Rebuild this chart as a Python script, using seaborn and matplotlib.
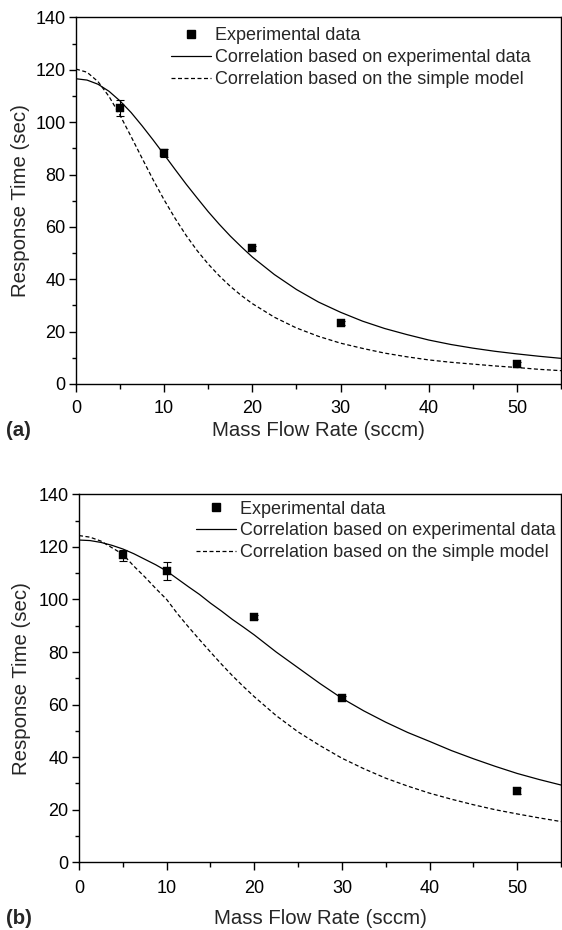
import matplotlib
matplotlib.use("Agg")
import matplotlib.pyplot as plt
import seaborn as sns
import pandas as pd
from matplotlib.lines import Line2D
from matplotlib.ticker import MultipleLocator

# ---- data ----
flow_exp = [5, 10, 20, 30, 50]
a_exp = [105.3, 88.2, 51.8, 23.2, 7.5]
a_err = [3.0, 1.5, 0.8, 0.8, 1.0]
b_exp = [116.8, 110.8, 93.3, 62.4, 27.1]
b_err = [2.0, 3.5, 0.8, 0.8, 1.3]

flow_fit = [0, 1.25, 2.5, 3.75, 5, 6.25, 7.5, 8.75, 10, 11.25, 12.5, 13.75,
            15, 16.25, 17.5, 18.75, 20, 22.5, 25, 27.5,
            30, 32.5, 35, 37.5, 40, 42.5, 45, 47.5, 50, 52.5, 55]
a_fit_exp = [116.6, 116.1, 114.5, 111.8, 108.1, 103.7, 98.6, 93.2, 87.6, 81.9,
             76.3, 71.0, 65.8, 61.0, 56.5, 52.4, 48.5, 41.8,
             36.1, 31.3, 27.4, 24.0, 21.2, 18.9, 16.8, 15.1, 13.7, 12.5,
             11.5, 10.6, 9.8]
a_fit_model = [120.3, 119.1, 115.5, 109.8, 102.6, 94.5, 86.2, 78.0, 70.3, 63.2,
               56.7, 50.9, 45.8, 41.3, 37.3, 33.8, 30.7, 25.5,
               21.4, 18.2, 15.6, 13.6, 11.8, 10.4, 9.2, 8.3, 7.6, 6.9,
               6.3, 5.6, 5.1]
b_fit_exp = [122.6, 122.4, 121.7, 120.6, 119.2, 117.4, 115.3, 113.2, 110.8, 107.8,
             104.8, 101.9, 98.6, 95.6, 92.4, 89.5, 86.5, 80.0,
             74.0, 68.0, 62.4, 57.6, 53.3, 49.4, 46.0, 42.5, 39.4, 36.5,
             33.8, 31.5, 29.4]
b_fit_model = [124.3, 123.7, 122.2, 119.7, 117.2, 112.7, 108.6, 104.2, 100.0, 94.5,
               89.5, 84.7, 80.0, 75.4, 71.0, 66.9, 63.0, 55.8,
               49.6, 44.4, 39.6, 35.6, 32.0, 29.0, 26.3, 24.0, 21.9, 20.0,
               18.4, 16.9, 15.5]

x_ticks = [0, 10, 20, 30, 40, 50]
y_ticks = [0, 20, 40, 60, 80, 100, 120, 140]
legend_labels = ["Experimental data",
                 "Correlation based on experimental data",
                 "Correlation based on the simple model"]
panel_labels = ["(a)", "(b)"]

sns.set_style("ticks")
plt.rcParams["font.family"] = ["Liberation Sans", "DejaVu Sans"]

W, H = 562, 930
fig = plt.figure(figsize=(W / 100, H / 100), dpi=100)

def fpos(l, t, r, b):
    return [l / W, 1 - b / H, (r - l) / W, (b - t) / H]

ax_a = fig.add_axes(fpos(76, 17.5, 561, 384))
ax_b = fig.add_axes(fpos(79, 494.3, 561, 862.3))

panels = [
    (ax_a, a_exp, a_err, a_fit_exp, a_fit_model, (171, 27.5), 430, 5.5, 3, 3.5),
    (ax_b, b_exp, b_err, b_fit_exp, b_fit_model, (196, 500.5), 918, 6.5, 9, 5.5),
]

dash = (0, (3.2, 2.0))
for i, (ax, yexp, yerr, fexp, fmod, leg_xy, ylab, xpad, xlpad, ylpad) in enumerate(panels):
    df_fit = pd.DataFrame({"x": flow_fit, "fe": fexp, "fm": fmod})
    sns.lineplot(data=df_fit, x="x", y="fe", ax=ax, color="black", lw=0.9)
    sns.lineplot(data=df_fit, x="x", y="fm", ax=ax, color="black", lw=0.9,
                 linestyle=dash)
    ax.errorbar(flow_exp, yexp, yerr=yerr, fmt="none", ecolor="black",
                elinewidth=0.8, capsize=2.6, capthick=0.8, zorder=3)
    df_exp = pd.DataFrame({"x": flow_exp, "y": yexp})
    sns.scatterplot(data=df_exp, x="x", y="y", ax=ax, marker="s", s=30,
                    color="black", edgecolor="black", linewidth=0.3, zorder=4)

    ax.set_xlim(0, 55)
    ax.set_ylim(0, 140)
    ax.set_xticks(x_ticks)
    ax.set_yticks(y_ticks)
    ax.xaxis.set_minor_locator(MultipleLocator(5))
    ax.yaxis.set_minor_locator(MultipleLocator(10))
    ax.tick_params(axis="both", which="both", labelsize=13, width=1.0,
                   color="black", labelcolor="black", direction="out",
                   top=False, right=False)
    ax.tick_params(axis="x", which="major", length=6, pad=xpad)
    ax.tick_params(axis="x", which="minor", length=3.5)
    ax.tick_params(axis="y", which="major", length=5, pad=2.5)
    ax.tick_params(axis="y", which="minor", length=3)
    for s in ax.spines.values():
        s.set_visible(True)
        s.set_linewidth(1.0)
        s.set_color("black")

    ax.set_xlabel("Mass Flow Rate (sccm)", fontsize=14.7, labelpad=xlpad)
    ax.set_ylabel("Response Time (sec)", fontsize=14.7, labelpad=ylpad)

    handles = [
        Line2D([], [], color="black", marker="s", linestyle="none", markersize=5.4),
        Line2D([], [], color="black", lw=0.9),
        Line2D([], [], color="black", lw=0.9, linestyle=dash),
    ]
    ax.legend(handles, legend_labels, loc="upper left",
              bbox_to_anchor=(leg_xy[0] / W, 1 - leg_xy[1] / H),
              bbox_transform=fig.transFigure, frameon=False, fontsize=13,
              handlelength=2.2, handletextpad=0.22, labelspacing=0.27,
              borderpad=0, borderaxespad=0, numpoints=1)

    fig.text(6.5 / W, 1 - ylab / H, panel_labels[i], fontsize=14.7,
             fontweight="bold", ha="left", va="center")

fig.savefig("out.png", dpi=100)
